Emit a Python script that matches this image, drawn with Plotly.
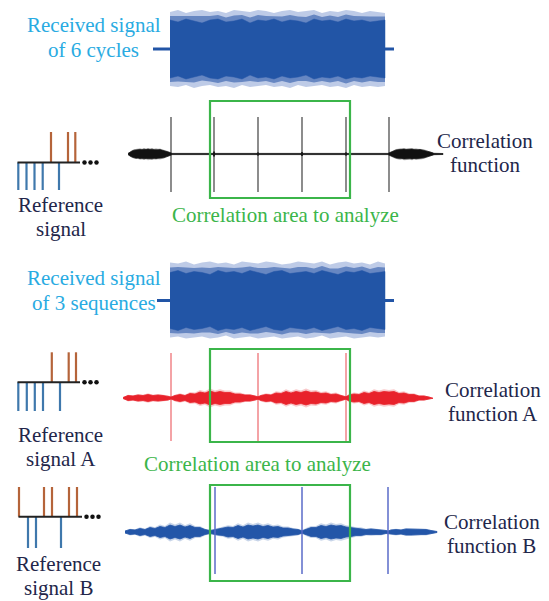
import plotly.graph_objects as go

# ---------------- data (diagram time axis in px-like units) ----------------
# received signals: sample times and envelope amplitudes
rx_t = [170, 178, 186, 194, 202, 210, 218, 226, 234, 242, 250, 258, 266, 274,
        282, 290, 298, 306, 314, 322, 330, 338, 346, 354, 362, 370, 378, 385]
rx1_outer_up = [37, 39, 36, 38, 39, 37, 38, 36, 39, 38, 37, 39, 38, 36,
                38, 39, 37, 38, 39, 36, 38, 37, 39, 38, 36, 38, 37, 36]
rx1_outer_dn = [37, 38, 36, 39, 37, 36, 38, 37, 39, 36, 38, 37, 36, 38,
                37, 39, 36, 38, 37, 36, 38, 37, 39, 36, 38, 37, 38, 37]
rx1_core = [29, 27, 30, 28, 26, 29, 30, 27, 28, 30, 26, 29, 28, 30,
            27, 29, 28, 26, 30, 28, 29, 27, 30, 28, 29, 27, 28, 29]
rx2_outer_up = [38, 37, 39, 36, 38, 39, 37, 38, 36, 39, 38, 37, 39, 38,
                36, 37, 39, 38, 37, 39, 36, 38, 39, 37, 38, 36, 39, 37]
rx2_outer_dn = [37, 36, 38, 37, 36, 38, 37, 35, 38, 37, 36, 38, 37, 36,
                38, 37, 36, 38, 37, 35, 38, 37, 36, 38, 37, 36, 37, 36]
rx2_core = [28, 30, 27, 29, 28, 26, 30, 28, 29, 27, 30, 28, 26, 29,
            30, 27, 28, 29, 27, 30, 28, 26, 29, 28, 30, 27, 28, 29]

# correlation function (6 cycles)
c1_t = [128, 130, 132, 134, 136, 138, 140, 142, 144, 146, 148, 150, 152, 154, 156, 158,
        160, 162, 164, 166, 168, 170, 172,
        213, 214, 215, 257, 258, 259, 301, 302, 303, 345, 346, 347,
        388, 390, 392, 394, 396, 398, 400, 402, 404, 406, 408, 410, 412, 414, 416, 418,
        420, 422, 424, 426, 428, 430, 432, 434, 443]
c1_amp = [0.6, 2, 3, 3.8, 4.2, 4, 4.6, 4.3, 4.8, 4.4, 4.9, 4.5, 4.8, 4.3, 4.6, 4.2,
          4.4, 3.9, 3.6, 3, 2.4, 1.5, 0.6,
          0.6, 2.5, 0.6, 0.6, 1.6, 0.6, 0.6, 2, 0.6, 0.6, 1.6, 0.6,
          0.6, 1.5, 2.6, 3.4, 4, 4.3, 4.7, 4.4, 4.9, 4.5, 4.8, 4.6, 4.9, 4.4, 4.7, 4.3,
          4.5, 4.1, 3.8, 3.3, 2.8, 2.1, 1.4, 0.7, 0.5]
c1_peaks = [171, 214, 258, 302, 346, 389]

# correlation function A
cA_t = [123, 128, 133, 138, 143, 148, 153, 158, 163, 168, 171,
        175, 180, 185, 190, 195, 200, 205, 210, 215, 220, 225, 230, 235, 240, 245, 250, 255, 258,
        261, 266, 271, 276, 281, 286, 291, 296, 301, 306, 311, 316, 321, 326, 331, 336, 341, 346,
        349, 354, 359, 364, 369, 374, 379, 384, 389, 394, 399, 404, 409, 414, 419, 424, 429, 433]
cA_amp = [0.5, 2.5, 2, 3, 2.5, 3.5, 2.5, 3, 2.5, 2, 1,
          2.5, 3.5, 2.5, 4.5, 4, 6, 5, 7, 5.5, 6.5, 5.5, 5.5, 4, 4, 3, 3, 2, 1.2,
          2.5, 3.5, 3, 5, 4.5, 6.5, 5, 6.5, 5.5, 7, 5.5, 6, 4.5, 5, 3.5, 4, 2.5, 1.2,
          3, 4, 3.5, 5.5, 4.5, 6.5, 5.5, 6.5, 6, 6.5, 4.5, 5, 3.5, 3.5, 2, 2, 1, 0.3]
cA_peaks = [171, 258, 346]

# correlation function B
cB_t = [125, 130, 135, 140, 145, 150, 155, 160, 165, 170, 175, 180, 185, 190, 195, 200, 205, 210,
        213, 218, 223, 228, 233, 238, 243, 248, 253, 258, 263, 268, 273, 278, 283, 288, 293, 298, 302,
        306, 311, 316, 321, 326, 331, 336, 341, 346, 351, 356, 361, 366, 371, 376, 381, 386, 388,
        391, 396, 401, 406, 411, 416, 421, 426, 431, 437]
cB_amp = [1, 2.5, 2, 3.5, 2.5, 4.5, 3.5, 5.5, 4.5, 7, 5.5, 7, 5, 6.5, 4.5, 4.5, 2.5, 1.5,
          2, 3, 3.5, 5, 4.5, 6.5, 5, 7, 6, 7, 5.5, 6.5, 5, 5.5, 4, 4, 3, 2.5, 1.2,
          3, 4.5, 4.5, 6.5, 5.5, 7, 6, 6.5, 5, 4.5, 3.5, 3.5, 2.5, 3, 2.5, 2.5, 1.5, 1,
          2, 2.5, 2, 3, 3, 3, 2.5, 2.5, 1.5, 0.5]
cB_peaks = [215, 302, 388]

# reference signals: pulse times (up = orange, down = blue)
ref1_up = [51, 68, 75.3]
ref1_down = [18.3, 26.5, 34.5, 42.7, 59]
refA_up = [51.8, 68.7, 76]
refA_down = [18.3, 26.8, 34.8, 43, 60]
refB_up = [19, 44, 52, 69, 77]
refB_down = [28, 36, 61]

# analysis window (start, end) on the correlation time axis
window = [210, 350]

# ---------------- drawing ----------------
fig = go.Figure()
SKIP = "skip"


def envelope(t, center, up, dn, fillcolor, linecolor, lw=0.8, scale=1.0):
    xs = list(t) + list(t)[::-1]
    ys = [center - a * scale for a in up] + [center + a * scale for a in list(dn)[::-1]]
    fig.add_trace(go.Scatter(x=xs, y=ys, mode="lines", fill="toself",
                             fillcolor=fillcolor,
                             line=dict(color=linecolor, width=lw),
                             hoverinfo=SKIP))


def segments(xs_list, ys_list, color, width):
    xs, ys = [], []
    for (xa, xb), (ya, yb) in zip(xs_list, ys_list):
        xs += [xa, xb, None]
        ys += [ya, yb, None]
    fig.add_trace(go.Scatter(x=xs, y=ys, mode="lines",
                             line=dict(color=color, width=width),
                             hoverinfo=SKIP))


# received signals
BAND = "#2255A6"
for center, oup, odn, core, lead in [(49, rx1_outer_up, rx1_outer_dn, rx1_core, 17),
                                     (300.5, rx2_outer_up, rx2_outer_dn, rx2_core, 13)]:
    segments([(rx_t[0] - lead, rx_t[0]), (rx_t[-1], rx_t[-1] + 9)],
             [(center, center), (center, center)], BAND, 3)
    envelope(rx_t, center, oup, odn, "rgba(70,105,185,0.35)", "rgba(70,105,185,0)", 0)
    envelope(rx_t, center, [(a + c) / 2 for a, c in zip(oup, core)],
             [(a + c) / 2 for a, c in zip(odn, core)],
             "rgba(45,90,170,0.6)", "rgba(45,90,170,0)", 0)
    envelope(rx_t, center, core, core, BAND, BAND, 0.5)

# correlation function (6 cycles)
segments([(p, p) for p in c1_peaks], [(117, 192)] * len(c1_peaks), "#707070", 1.6)
envelope(c1_t, 154, c1_amp, c1_amp, "rgba(20,20,20,0.3)", "rgba(20,20,20,0)", 0, 1.25)
envelope(c1_t, 154, c1_amp, c1_amp, "#111111", "#111111", 0.7)

# correlation function A
segments([(p, p) for p in cA_peaks], [(353, 441)] * len(cA_peaks), "#F4A3A6", 2)
envelope(cA_t, 398, cA_amp, cA_amp, "rgba(232,34,43,0.25)", "rgba(232,34,43,0)", 0, 1.35)
envelope(cA_t, 398, cA_amp, cA_amp, "#E8222B", "#E8222B", 0.8)

# correlation function B
envelope(cB_t, 532, cB_amp, cB_amp, "rgba(35,86,168,0.25)", "rgba(35,86,168,0)", 0, 1.35)
envelope(cB_t, 532, cB_amp, cB_amp, "#2356A8", "#2356A8", 0.8)
segments([(p, p) for p in cB_peaks], [(487, 574)] * len(cB_peaks), "#5A6BC9", 1.5)

# reference signals
ORANGE = "#B5643A"
RBLUE = "#3F78AC"
for base, ups, downs, top, bottom, x0, x1 in [
        (162.5, ref1_up, ref1_down, 132, 190, 17.5, 80),
        (382.3, refA_up, refA_down, 352.3, 411, 17.5, 80),
        (516.7, refB_up, refB_down, 487, 548, 18.5, 82)]:
    segments([(u, u) for u in ups], [(base, top)] * len(ups), ORANGE, 2.2)
    segments([(d, d) for d in downs], [(base, bottom)] * len(downs), RBLUE, 2.2)
    segments([(x0, x1)], [(base, base)], "#222222", 2)
    fig.add_trace(go.Scatter(x=[x1 + 4.5, x1 + 10.5, x1 + 16.5], y=[base] * 3,
                             mode="markers",
                             marker=dict(color="#111111", size=4.5),
                             hoverinfo=SKIP))

# analysis boxes
GREEN = "#3BB54A"
for y0, y1 in [(101, 198), (349, 442), (485, 581)]:
    fig.add_shape(type="rect", x0=window[0], x1=window[1], y0=y0, y1=y1,
                  line=dict(color=GREEN, width=2.2), fillcolor="rgba(0,0,0,0)",
                  layer="above")

# text
CYAN = "#29ABE2"
NAVY = "#22264A"
labels = [
    ("Received signal", 93.5, 25, CYAN),
    ("of 6 cycles", 93.5, 50, CYAN),
    ("Correlation", 484.5, 141, NAVY),
    ("function", 484.5, 165, NAVY),
    ("Reference", 60.5, 204.5, NAVY),
    ("signal", 61, 229, NAVY),
    ("Correlation area to analyze", 285, 214.5, GREEN),
    ("Received signal", 94, 278, CYAN),
    ("of 3 sequences", 94, 303, CYAN),
    ("Correlation", 492.5, 390, NAVY),
    ("function A", 492.5, 414, NAVY),
    ("Reference", 60.5, 434.5, NAVY),
    ("signal A", 61, 458.5, NAVY),
    ("Correlation area to analyze", 257, 464, GREEN),
    ("Correlation", 491.5, 521.5, NAVY),
    ("function B", 491.5, 545.5, NAVY),
    ("Reference", 58, 563.5, NAVY),
    ("signal B", 58, 587.5, NAVY),
]
for txt, x, y, col in labels:
    fig.add_annotation(x=x, y=y, text=txt, showarrow=False,
                       xanchor="center", yanchor="middle", borderpad=0,
                       font=dict(family="Liberation Serif", size=21, color=col))

fig.update_layout(
    width=549, height=601, autosize=False,
    margin=dict(l=0, r=0, t=0, b=0),
    paper_bgcolor="white", plot_bgcolor="white",
    showlegend=False,
    font=dict(family="Liberation Serif"),
    xaxis=dict(range=[0, 549], visible=False, fixedrange=True),
    yaxis=dict(range=[601, 0], visible=False, fixedrange=True),
)

fig.write_html("out.html", config={"displayModeBar": False},
               post_script="document.body.style.margin='0';"
                           "document.body.style.overflow='hidden';")
